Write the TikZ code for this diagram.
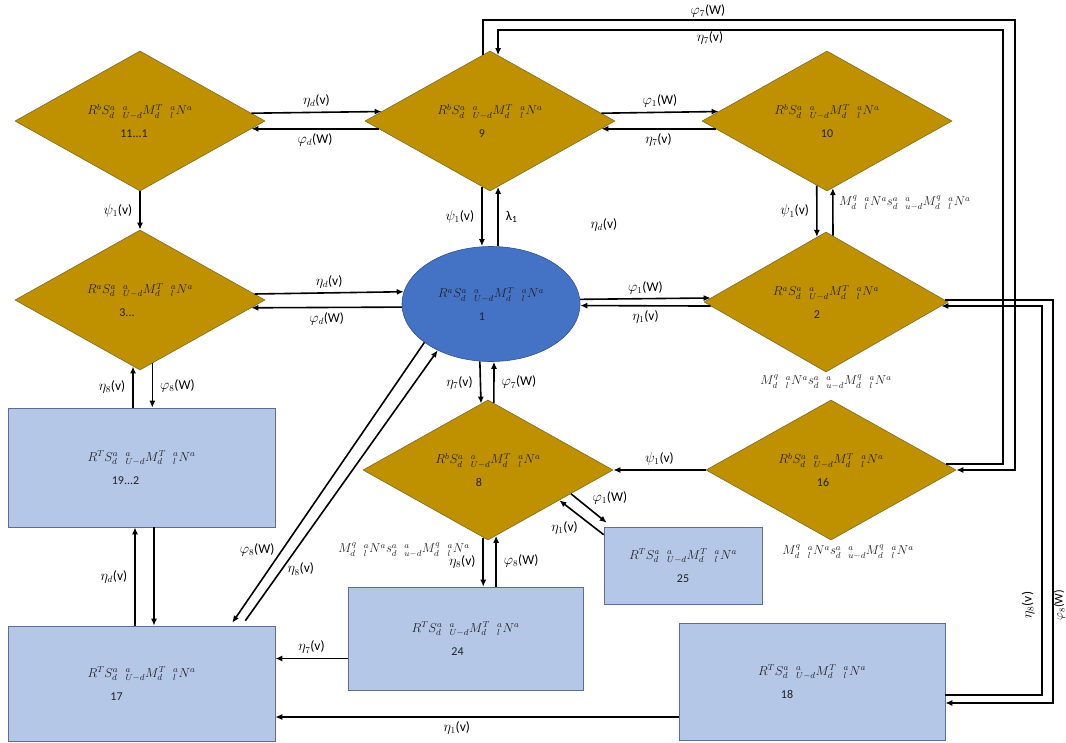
\documentclass[tikz,border=0pt]{standalone}
\usepackage{graphicx}
\usepackage{fontspec}
\setmainfont{Carlito}
\usetikzlibrary{shapes.geometric,arrows.meta,calc}
\definecolor{gold}{HTML}{BF9000}
\definecolor{goldline}{HTML}{7F6A20}
\definecolor{boxfill}{HTML}{B4C7E7}
\definecolor{boxline}{HTML}{5A6F96}
\definecolor{ellfill}{HTML}{4472C4}
\definecolor{ellline}{HTML}{2F528F}
\definecolor{txt}{HTML}{222222}
\newcommand\formR[1]{\scalebox{1.08}{$R^{#1}S^{a}_{d}\;\;{}^{a}_{U-d}M^{T}_{d}\;\;{}^{a}_{l}N^{a}$}}
\newcommand\formM{\scalebox{1.07}{$M^{q}_{d}\;\;{}^{a}_{l}N^{a}s^{a}_{d}\;\;{}^{a}_{u-d}M^{q}_{d}\;\;{}^{a}_{l}N^{a}$}}
\begin{document}
\begin{tikzpicture}[x=1pt,y=-1pt,
  dia/.style={diamond, draw=goldline, line width=0.6pt, fill=gold, minimum width=250pt, minimum height=140pt, inner sep=0pt, align=center, text=txt, font=\fontsize{12}{14}\selectfont},
  ell/.style={ellipse, draw=ellline, line width=0.6pt, fill=ellfill, minimum width=178pt, minimum height=115pt, inner sep=0pt, align=center, text=txt, font=\fontsize{12}{14}\selectfont},
  box/.style={rectangle, draw=boxline, line width=0.6pt, fill=boxfill, inner sep=0pt, align=center, text=txt, font=\fontsize{12}{14}\selectfont},
  arr/.style={line width=1.6pt, -{Latex[length=7pt,width=6pt]}},
  lbl/.style={font=\fontsize{13.5}{15}\selectfont, text=black, inner sep=1pt},
  mlab/.style={font=\fontsize{12}{14}\selectfont, text=txt, inner sep=1pt}]
\useasboundingbox (0,0) rectangle (1066,742);
% nodes
\node[dia] (d11) at (140,121) {\formR{b}\\[9pt]\hspace*{-12pt}11...1};
\node[dia] (d9) at (490,121) {\formR{b}\\[9pt]\hspace*{-16pt}9};
\node[dia] (d10) at (827,121) {\formR{b}\\[9pt]10};
\node[dia] (d3) at (140,300) {\formR{a}\\[9pt]\hspace*{-26pt}3...};
\node[ell] (e1) at (491,304) {\formR{a}\\[9pt]\hspace*{-18pt}1};
\node[dia, minimum width=244pt] (d2) at (826,302) {\formR{a}\\[9pt]\hspace*{-18pt}2};
\node[dia] (d8) at (488,470) {\formR{b}\\[9pt]\hspace*{-18pt}8};
\node[dia] (d16) at (831,470) {\formR{b}\\[9pt]\hspace*{-16pt}16};
\node[box, minimum width=267pt, minimum height=119pt] (r19) at (141.5,467.5) {\formR{T}\\[9pt]\hspace*{-32pt}19...2};
\node[box, minimum width=267pt, minimum height=115pt] (r17) at (141.5,683.5) {\formR{T}\\[9pt]\hspace*{-50pt}17};
\node[box, minimum width=235pt, minimum height=103pt] (r24) at (465.5,638.5) {\formR{T}\\[9pt]\hspace*{-16pt}24};
\node[box, minimum width=158pt, minimum height=77pt] (r25) at (683,565.5) {\formR{T}\\[9pt]25};
\node[box, minimum width=266pt, minimum height=117pt] (r18) at (812,681.5) {\formR{T}\\[9pt]\hspace*{-50pt}18};
% extra texts
\node[lbl] (sd) at (604,225) {$\eta_d$(v)};
\node[mlab, anchor=west] (m10) at (838,203) {\formM};
\node[mlab] (m2) at (826,382) {\formM};
\node[mlab] (m8) at (404,550) {\formM};
\node[mlab] (m16) at (848,552) {\formM};
% D11 <-> D9
\draw[arr] (d11.4.13) -- node[lbl,above=3pt]{$\eta_d$(v)} (d9.175.87);
\draw[arr] (d9.184.13) -- node[lbl,below=3pt]{$\varphi_d$(W)} (d11.-4.13);
% D3 <-> E1
\draw[arr] (d3.3.56) -- node[lbl,above=3pt]{$\eta_d$(v)} (e1.172.82);
\draw[arr] (e1.182.58) -- node[lbl,below=3pt]{$\varphi_d$(W)} (d3.-4.13);
% E1 <-> D2
\draw[arr] (e1.3.23) -- node[lbl,above=3pt]{$\varphi_1$(W)} (d2.178.53);
\draw[arr] (d2.182.53) -- node[lbl,below=3pt]{$\eta_1$(v)} (e1.-1.93);
% D9 <-> D10
\draw[arr] (d9.4.13) -- node[lbl,above=3pt]{$\varphi_1$(W)} (d10.175.87);
\draw[arr] (d10.184.13) -- node[lbl,below=3pt]{$\eta_7$(v)} (d9.-4.13);
% D11 -> D3
\draw[arr] (d11.south) -- node[lbl,left=6pt]{$\psi_1$(v)} (d3.north);
% D3 <-> R19
\draw[arr] (d3.-96.05 |- r19.north) -- node[lbl,left=6pt]{$\eta_8$(v)} (d3.-96.05);
\draw[arr] (d3.-79.27) -- node[lbl,right=6pt]{$\varphi_8$(W)} (d3.-79.27 |- r19.north);
% R19 <-> R17
\draw[arr] ([xshift=-6.5pt]r19.south |- r17.north) -- node[lbl,left=6pt]{$\eta_d$(v)} ([xshift=-6.5pt]r19.south);
\draw[arr] ([xshift=12.5pt]r19.south) -- ([xshift=12.5pt]r19.south |- r17.north);
% D9 <-> E1
\draw[arr] (d9.-97.89) -- node[lbl,left=6pt]{$\psi_1$(v)} (d9.-97.89 |- e1.north);
\draw[arr] (d9.-83.95 |- e1.north) -- node[lbl,right=6pt]{λ\textsubscript{1}} (d9.-83.95);
% D10 <-> D2
\draw[arr] (d10.-99.78) -- node[lbl,left=6pt]{$\psi_1$(v)} (d2.98.85);
\draw[arr] (d2.84.85) -- (d10.-85.74);
% E1 <-> D8
\draw[arr] (e1.-101.0) -- node[lbl,left=6pt]{$\eta_7$(v)} (d8.96.96);
\draw[arr] (d8.85.74) -- node[lbl,right=6pt]{$\varphi_7$(W)} (e1.-87.99);
% D16 -> D8
\draw[arr] (d16.west) -- node[lbl,above=3pt]{$\psi_1$(v)} (d8.east);
% D8 <-> R25
\draw[arr] (d8.-16.3) -- node[lbl,above right=2pt]{$\varphi_1$(W)} ([xshift=3pt,yshift=4pt]r25.north west);
\draw[arr] ([yshift=-8pt]r25.north west) -- node[lbl,below left=2pt]{$\eta_1$(v)} (d8.-23.5);
% D8 <-> R24
\draw[arr] (d8.-94.26) -- node[lbl,left=6pt]{$\eta_8$(v)} (d8.-94.26 |- r24.north);
\draw[arr] (d8.-83.04 |- r24.north) -- node[lbl,right=6pt]{$\varphi_8$(W)} (d8.-83.04);
% R24 -> R17, R18 -> R17
\draw[arr] ([yshift=-20pt]r24.west) -- node[lbl,above=3pt]{$\eta_7$(v)} ([yshift=-20pt]r24.west -| r17.east);
\draw[arr] ([yshift=-35.5pt]r18.west) -- node[lbl,below=3pt,pos=0.55]{$\eta_1$(v)} ([yshift=-35.5pt]r18.west -| r17.east);
% E1 <-> R17
\draw[arr] (e1.210.6) -- node[lbl,pos=0.74,left=6pt]{$\varphi_8$(W)} ([xshift=-43pt,yshift=3pt]r17.north east);
\draw[arr] ([xshift=-30pt,yshift=5pt]r17.north east) -- node[lbl,pos=0.19,right=4pt]{$\eta_8$(v)} (e1.221);
% top loop
\coordinate (t1) at (1015,20);
\coordinate (t2) at (1003,30);
\draw[arr] (d9.96.05) |- (t1) |- (d16.east);
\draw[arr] (d16.3.56) -| (t2) -| (d9.83.04);
\node[lbl] (l1) at (708,11) {$\varphi_7$(W)};
\node[lbl] (l2) at (710,38) {$\eta_7$(v)};
% right loop
\coordinate (t3) at (1053,703);
\coordinate (t4) at (1042,500);
\draw[arr] (d2.1.47) -| (t3) -- (t3 -| r18.east);
\draw[arr] ([yshift=-13.5pt]r18.east) -| (t4) |- (d2.-2.53);
\node[lbl, rotate=90] (l3) at (1028,605) {$\eta_8$(v)};
\node[lbl, rotate=90, font=\fontsize{12}{13}\selectfont, inner sep=0.5pt] (l4) at (1059.5,605) {$\varphi_8$(W)};
\end{tikzpicture}
\end{document}
